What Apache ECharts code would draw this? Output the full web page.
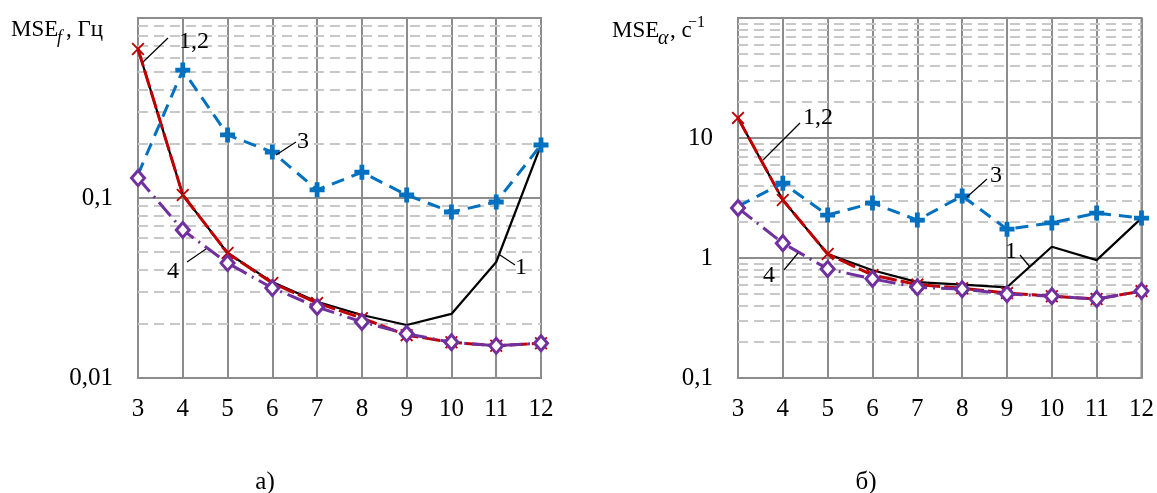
<!DOCTYPE html>
<html lang="ru">
<head>
<meta charset="UTF-8" />
<title>MSE</title>
<style>
  body { margin: 0; padding: 0; background: #fff; }
  #chart { width: 1157px; height: 493px; }
</style>
</head>
<body>
<div id="chart"></div>
<script src="https://cdn.jsdelivr.net/npm/echarts/dist/echarts.min.js"></script>
<script>
// число параметров (ось X)
const nValues = [3, 4, 5, 6, 7, 8, 9, 10, 11, 12];

// а) MSE_f, Гц
const fSeries1 = [0.673, 0.104, 0.0495, 0.0341, 0.0265, 0.0224, 0.0197, 0.0227, 0.0441, 0.197];
const fSeries2 = [0.673, 0.104, 0.0495, 0.0337, 0.0261, 0.0215, 0.0173, 0.0158, 0.0151, 0.0156];
const fSeries3 = [0.135, 0.514, 0.224, 0.180, 0.111, 0.139, 0.104, 0.0836, 0.095, 0.197];
const fSeries4 = [0.129, 0.0664, 0.0435, 0.0316, 0.0248, 0.0205, 0.0176, 0.0158, 0.0151, 0.0156];

// б) MSE_alpha, c^-1
const aSeries1 = [14.7, 3.04, 1.08, 0.79, 0.63, 0.60, 0.57, 1.24, 0.96, 2.15];
const aSeries2 = [14.7, 3.04, 1.08, 0.72, 0.60, 0.56, 0.51, 0.48, 0.455, 0.53];
const aSeries3 = [2.7, 4.2, 2.28, 2.87, 2.07, 3.29, 1.74, 1.96, 2.37, 2.15];
const aSeries4 = [2.61, 1.33, 0.81, 0.67, 0.57, 0.55, 0.50, 0.48, 0.455, 0.53];

// подписи делений
const fTicks = [0.01, 0.1];
const fTickText = ['0,01', '0,1'];
const aTicks = [0.1, 1, 10];
const aTickText = ['0,1', '1', '10'];

// вспомогательная сетка (2..9 в каждой декаде)
const minorSteps = [2, 3, 4, 5, 6, 7, 8, 9];
const fDecades = [0.01, 0.1];
const aDecades = [0.1, 1, 10];

const FONT = '"Liberation Serif", "DejaVu Serif", serif';
const GRID_COLOR = '#8c8c8c';
const LABEL_SIZE = 25;

const crossX = 'path://M1,0L5,4L9,0L10,1L6,5L10,9L9,10L5,6L1,10L0,9L4,5L0,1Z';
const plus = 'path://M3.4,0H6.6V3.4H10V6.6H6.6V10H3.4V6.6H0V3.4H3.4Z';

function minorOf(decades) {
  const out = [];
  decades.forEach(d => minorSteps.forEach(s => out.push(+(d * s).toPrecision(6))));
  return out;
}

function tickFormatter(ticks, texts) {
  return function (v) {
    for (let i = 0; i < ticks.length; i++) {
      if (Math.abs(Math.log10(v) - Math.log10(ticks[i])) < 1e-6) return texts[i];
    }
    return '';
  };
}

function pairs(vals) {
  return nValues.map((n, k) => [n, vals[k]]);
}

function buildSeries(idx, s1, s2, s3, s4, minor) {
  const base = { type: 'line', xAxisIndex: idx, yAxisIndex: idx, animation: false, silent: true };
  return [
    Object.assign({}, base, {
      name: '1', z: 3, symbol: 'none', data: pairs(s1),
      lineStyle: { color: '#000', width: 2.2 },
      markLine: {
        silent: true, z: 1, symbol: ['none', 'none'], label: { show: false }, animation: false,
        lineStyle: { type: [10, 6], color: '#c8c8c8', width: 2 },
        emphasis: { disabled: true },
        data: minor.map(v => ({ yAxis: v }))
      }
    }),
    Object.assign({}, base, {
      name: '2', z: 4, symbol: crossX, symbolSize: 13, data: pairs(s2),
      itemStyle: { color: '#c00000' },
      lineStyle: { color: '#c00000', width: 3, type: [18, 4] }
    }),
    Object.assign({}, base, {
      name: '3', z: 5, symbol: plus, symbolSize: 15,
      data: pairs(s3).map((p, k) => k === 0 ? { value: p, symbol: 'none' } : p),
      itemStyle: { color: '#0070c0' },
      lineStyle: { color: '#0070c0', width: 3, type: [13, 8] }
    }),
    Object.assign({}, base, {
      name: '4', z: 6, symbol: 'diamond', symbolSize: [13, 15], data: pairs(s4),
      itemStyle: { color: '#fff', borderColor: '#7030a0', borderWidth: 3 },
      lineStyle: { color: '#7030a0', width: 3, type: [18, 6, 2, 6] }
    })
  ];
}

function xAxisOf(idx) {
  return {
    gridIndex: idx, type: 'value', min: 3, max: 12, interval: 1,
    axisLine: { show: true, lineStyle: { color: GRID_COLOR, width: 2 } },
    axisTick: { show: false },
    axisLabel: { fontFamily: FONT, fontSize: LABEL_SIZE, color: '#000', margin: 19, showMinLabel: true, showMaxLabel: true },
    splitLine: { show: true, lineStyle: { color: GRID_COLOR, width: 2 } }
  };
}

function yAxisOf(idx, min, max, ticks, texts) {
  return {
    gridIndex: idx, type: 'log', logBase: 10, min: min, max: max,
    axisLine: { show: true, lineStyle: { color: GRID_COLOR, width: 2 } },
    axisTick: { show: false },
    axisLabel: { fontFamily: FONT, fontSize: LABEL_SIZE, color: '#000', margin: 25, formatter: tickFormatter(ticks, texts) },
    splitLine: { show: true, lineStyle: { color: GRID_COLOR, width: 2 } }
  };
}

function txt(x, y, text, size, extra) {
  return {
    type: 'text', x: x, y: y, silent: true, z: 20,
    style: Object.assign({ text: text, fontFamily: FONT, fontSize: size || 24, fill: '#000',
      textVerticalAlign: 'middle', verticalAlign: 'middle' }, extra || {})
  };
}

function leader(x1, y1, x2, y2) {
  return { type: 'line', silent: true, z: 20, shape: { x1: x1, y1: y1, x2: x2, y2: y2 },
    style: { stroke: '#000', lineWidth: 1.2 } };
}

const chart = echarts.init(document.getElementById('chart'));
chart.setOption({
  animation: false,
  grid: [
    { left: 138, right: 616, top: 18, bottom: 115, show: true, borderColor: GRID_COLOR, borderWidth: 2 },
    { left: 738, right: 15, top: 18, bottom: 115, show: true, borderColor: GRID_COLOR, borderWidth: 2 }
  ],
  xAxis: [xAxisOf(0), xAxisOf(1)],
  yAxis: [
    yAxisOf(0, 0.01, 1, fTicks, fTickText),
    yAxisOf(1, 0.1, 100, aTicks, aTickText)
  ],
  series: buildSeries(0, fSeries1, fSeries2, fSeries3, fSeries4, minorOf(fDecades))
    .concat(buildSeries(1, aSeries1, aSeries2, aSeries3, aSeries4, minorOf(aDecades))),
  graphic: [
    // заголовок оси а)
    txt(11, 30, 'MSE', 23),
    txt(57, 38, 'f', 18, { fontStyle: 'italic' }),
    txt(66, 30, ', Гц', 23),
    // заголовок оси б)
    txt(612, 31, 'MSE', 23),
    txt(658, 39, 'α', 20, { fontStyle: 'italic' }),
    txt(670, 31, ', с', 23),
    txt(688, 23, '−1', 16),
    // подписи кривых а)
    leader(143, 62, 168, 38), txt(179, 42, '1,2'),
    leader(276, 155, 296, 142), txt(297, 142, '3'),
    leader(187, 262, 206, 249), txt(167, 272, '4'),
    leader(500, 255, 515, 265), txt(515, 268, '1'),
    // подписи кривых б)
    leader(763, 160, 800, 123), txt(803, 118, '1,2'),
    leader(967, 197, 987, 179), txt(990, 176, '3'),
    leader(1020, 255, 1030, 267), txt(1005, 252, '1'),
    leader(784, 270, 798, 253), txt(763, 276, '4'),
    // подписи рисунков
    txt(265, 482, 'а)', 25, { textAlign: 'center', align: 'center' }),
    txt(866, 482, 'б)', 25, { textAlign: 'center', align: 'center' })
  ]
});
</script>
</body>
</html>
